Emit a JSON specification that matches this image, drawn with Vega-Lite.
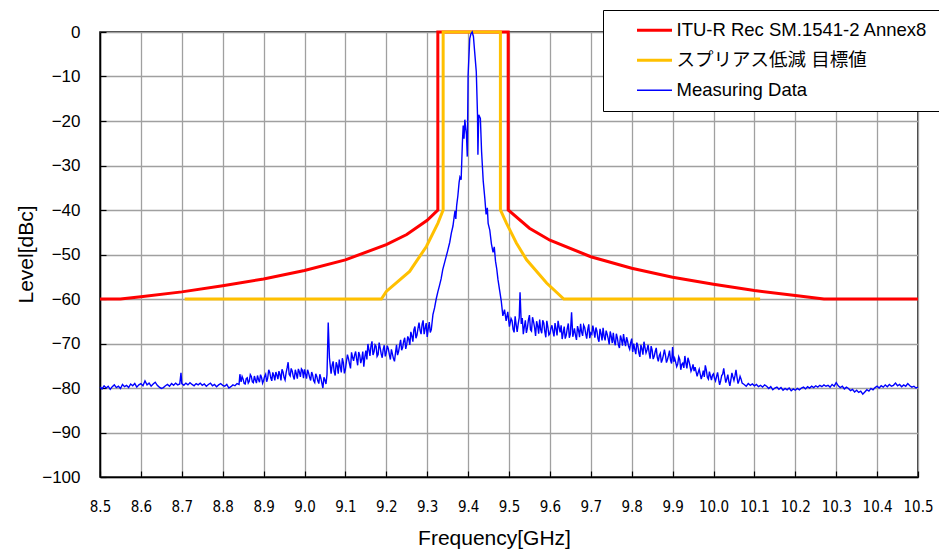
{
"$schema": "https://vega.github.io/schema/vega-lite/v6.json",
"width": 818, "height": 445,
"autosize": {"type": "none"},
"padding": {"left": 100, "top": 32, "right": 21, "bottom": 72},
"background": "white",
"config": {"view": {"stroke": "black", "strokeWidth": 1.5}, "font": "Liberation Sans"},
"layer": [
{
"data": {"values": [
{"f":8.5,"v":-60,"i":0},{"f":8.55,"v":-60,"i":1},{"f":8.6,"v":-59.5,"i":2},{"f":8.7,"v":-58.4,"i":3},{"f":8.8,"v":-57.0,"i":4},{"f":8.9,"v":-55.5,"i":5},{"f":9.0,"v":-53.6,"i":6},{"f":9.1,"v":-51.2,"i":7},{"f":9.2,"v":-47.8,"i":8},{"f":9.25,"v":-45.5,"i":9},{"f":9.3,"v":-42.3,"i":10},{"f":9.326,"v":-40,"i":11},{"f":9.326,"v":0,"i":12},{"f":9.498,"v":0,"i":13},{"f":9.498,"v":-40,"i":14},{"f":9.55,"v":-44.1,"i":15},{"f":9.6,"v":-46.8,"i":16},{"f":9.7,"v":-50.5,"i":17},{"f":9.8,"v":-53.1,"i":18},{"f":9.9,"v":-55.1,"i":19},{"f":10.0,"v":-56.7,"i":20},{"f":10.1,"v":-58.1,"i":21},{"f":10.2,"v":-59.2,"i":22},{"f":10.27,"v":-60,"i":23},{"f":10.5,"v":-60,"i":24}
]},
"mark": {"type": "line", "strokeWidth": 3, "clip": false},
"encoding": {
"x": {"field": "f", "type": "quantitative", "title": "Frequency[GHz]",
 "scale": {"domain": [8.5, 10.5], "nice": false, "zero": false},
 "axis": {"values": [8.5,8.55,8.6,8.65,8.7,8.75,8.8,8.85,8.9,8.95,9.0,9.05,9.1,9.15,9.2,9.25,9.3,9.35,9.4,9.45,9.5,9.55,9.6,9.65,9.7,9.75,9.8,9.85,9.9,9.95,10.0,10.05,10.1,10.15,10.2,10.25,10.3,10.35,10.4,10.45,10.5],
  "labelExpr": "round(datum.value*20)%2===0 ? format(datum.value,'.1f') : ''",
  "gridOpacity": {"condition": {"test": "round(datum.value*20)%2===0", "value": 1}, "value": 0},
  "gridColor": "#a0a0a0", "gridWidth": 1.3, "tickSize": -6, "tickColor": "black", "tickWidth": 1.2,
  "domainColor": "black", "domainWidth": 1.5,
  "labelFont": "Liberation Sans Narrow, DejaVu Sans Condensed, Liberation Sans", "labelFontSize": 15, "labelColor": "black", "labelPadding": 28,
  "labelOverlap": false, "labelFlush": false,
  "titleFont": "Liberation Sans", "titleFontSize": 21, "titleFontWeight": "normal", "titleColor": "black", "titleX": 394, "titleY": 50}},
"y": {"field": "v", "type": "quantitative", "title": "Level[dBc]",
 "scale": {"domain": [-100, 0], "nice": false, "zero": false},
 "axis": {"values": [-100,-95,-90,-85,-80,-75,-70,-65,-60,-55,-50,-45,-40,-35,-30,-25,-20,-15,-10,-5,0],
  "labelExpr": "datum.value % 10 === 0 ? datum.label : ''",
  "gridOpacity": {"condition": {"test": "datum.value % 10 === 0", "value": 1}, "value": 0},
  "gridColor": "#a0a0a0", "gridWidth": 1.3, "tickSize": -6, "tickColor": "black", "tickWidth": 1.2,
  "domainColor": "black", "domainWidth": 1.5,
  "labelFont": "Liberation Sans", "labelFontSize": 17, "labelColor": "black", "labelPadding": 26,
  "labelOverlap": false, "labelFlush": false,
  "titleFont": "Liberation Sans", "titleFontSize": 21, "titleFontWeight": "normal", "titleColor": "black", "titleX": -64, "titleY": 222}},
"order": {"field": "i", "type": "quantitative"},
"color": {"datum": "ITU-R Rec SM.1541-2 Annex8", "type": "nominal",
 "scale": {"domain": ["ITU-R Rec SM.1541-2 Annex8", "スプリアス低減 目標値", "Measuring Data"], "range": ["#FF0000", "#FFC000", "#0000FF"]},
 "legend": {"title": null, "orient": "none", "legendX": 503, "legendY": -22,
  "padding": 11, "strokeColor": "black", "fillColor": "white", "cornerRadius": 0,
  "symbolType": "stroke", "symbolSize": 1225, "symbolOffset": 0, "labelOffset": 44, "rowPadding": 11,
  "labelFont": "Liberation Sans, Noto Sans CJK JP", "labelFontSize": 18.5, "labelColor": "black", "labelLimit": 500,
  "labelExpr": "datum.label + '      '",
  "encode": {"symbols": {"update": {"x": {"value": 40.5}, "strokeWidth": {"signal": "datum.value === 'Measuring Data' ? 1.5 : 3"}}}}}}
}
},
{
"data": {"values": [
{"f":8.707,"v":-60,"i":0},{"f":9.188,"v":-60,"i":1},{"f":9.2,"v":-58.3,"i":2},{"f":9.257,"v":-53.8,"i":3},{"f":9.298,"v":-48.2,"i":4},{"f":9.326,"v":-43.0,"i":5},{"f":9.339,"v":-40,"i":6},{"f":9.339,"v":0,"i":7},{"f":9.479,"v":0,"i":8},{"f":9.479,"v":-40,"i":9},{"f":9.494,"v":-43.0,"i":10},{"f":9.518,"v":-47.4,"i":11},{"f":9.543,"v":-51.2,"i":12},{"f":9.592,"v":-56.4,"i":13},{"f":9.634,"v":-60,"i":14},{"f":10.114,"v":-60,"i":15}
]},
"mark": {"type": "line", "strokeWidth": 3, "clip": false},
"encoding": {
"x": {"field": "f", "type": "quantitative"},
"y": {"field": "v", "type": "quantitative"},
"order": {"field": "i", "type": "quantitative"},
"color": {"datum": "スプリアス低減 目標値", "type": "nominal"}
}
},
{
"data": {"values": [
{"f":8.500,"v":-79.8},{"f":8.505,"v":-80.2},{"f":8.510,"v":-79.5},{"f":8.515,"v":-80.0},{"f":8.520,"v":-79.6},{"f":8.525,"v":-80.3},{"f":8.530,"v":-79.7},{"f":8.535,"v":-79.3},{"f":8.540,"v":-79.9},{"f":8.545,"v":-79.6},
{"f":8.550,"v":-80.1},{"f":8.555,"v":-79.2},{"f":8.560,"v":-79.7},{"f":8.565,"v":-79.4},{"f":8.570,"v":-79.9},{"f":8.575,"v":-79.1},{"f":8.580,"v":-79.5},{"f":8.585,"v":-79.0},{"f":8.590,"v":-79.8},{"f":8.595,"v":-79.3},
{"f":8.600,"v":-79.0},{"f":8.605,"v":-79.5},{"f":8.610,"v":-78.4},{"f":8.615,"v":-79.3},{"f":8.620,"v":-78.9},{"f":8.625,"v":-79.6},{"f":8.630,"v":-79.1},{"f":8.635,"v":-78.7},{"f":8.640,"v":-79.4},{"f":8.645,"v":-79.8},
{"f":8.650,"v":-80.1},{"f":8.655,"v":-79.9},{"f":8.660,"v":-79.5},{"f":8.665,"v":-79.2},{"f":8.670,"v":-79.6},{"f":8.675,"v":-79.0},{"f":8.680,"v":-79.4},{"f":8.685,"v":-78.9},{"f":8.690,"v":-79.3},{"f":8.695,"v":-79.1},
{"f":8.698,"v":-76.6},{"f":8.700,"v":-79.0},{"f":8.705,"v":-79.4},{"f":8.710,"v":-78.9},{"f":8.715,"v":-79.3},{"f":8.720,"v":-78.8},{"f":8.725,"v":-79.2},{"f":8.730,"v":-79.5},{"f":8.735,"v":-79.0},{"f":8.740,"v":-79.3},
{"f":8.745,"v":-78.9},{"f":8.750,"v":-79.4},{"f":8.755,"v":-79.1},{"f":8.760,"v":-79.6},{"f":8.765,"v":-79.2},{"f":8.770,"v":-78.9},{"f":8.775,"v":-79.5},{"f":8.780,"v":-79.2},{"f":8.785,"v":-79.7},{"f":8.790,"v":-79.3},
{"f":8.795,"v":-79.0},{"f":8.800,"v":-79.4},{"f":8.805,"v":-79.6},{"f":8.810,"v":-79.2},{"f":8.815,"v":-80.0},{"f":8.820,"v":-79.7},{"f":8.825,"v":-79.3},{"f":8.830,"v":-79.5},{"f":8.835,"v":-79.0},{"f":8.840,"v":-79.2},
{"f":8.842,"v":-76.9},{"f":8.845,"v":-78.6},{"f":8.850,"v":-78.0},{"f":8.855,"v":-79.1},{"f":8.860,"v":-77.7},{"f":8.865,"v":-78.5},{"f":8.870,"v":-77.4},{"f":8.875,"v":-78.8},{"f":8.880,"v":-78.2},{"f":8.885,"v":-77.2},
{"f":8.890,"v":-78.7},{"f":8.895,"v":-77.6},{"f":8.900,"v":-78.3},{"f":8.905,"v":-76.9},{"f":8.910,"v":-77.8},{"f":8.915,"v":-76.5},{"f":8.920,"v":-78.4},{"f":8.925,"v":-77.2},{"f":8.930,"v":-76.4},{"f":8.935,"v":-78.0},
{"f":8.940,"v":-77.0},{"f":8.945,"v":-75.8},{"f":8.950,"v":-77.6},{"f":8.955,"v":-76.6},{"f":8.960,"v":-74.2},{"f":8.965,"v":-77.3},{"f":8.970,"v":-76.2},{"f":8.975,"v":-78.1},{"f":8.980,"v":-76.8},{"f":8.985,"v":-75.7},
{"f":8.990,"v":-77.5},{"f":8.995,"v":-76.0},{"f":9.000,"v":-75.8},{"f":9.005,"v":-77.9},{"f":9.010,"v":-76.6},{"f":9.015,"v":-78.3},{"f":9.020,"v":-77.1},{"f":9.025,"v":-78.8},{"f":9.030,"v":-77.4},{"f":9.035,"v":-79.0},
{"f":9.040,"v":-77.8},{"f":9.045,"v":-80.0},{"f":9.050,"v":-78.2},{"f":9.055,"v":-77.0},{"f":9.058,"v":-65.3},{"f":9.061,"v":-73.2},{"f":9.065,"v":-76.8},{"f":9.070,"v":-74.0},{"f":9.075,"v":-77.2},{"f":9.080,"v":-75.0},
{"f":9.085,"v":-73.6},{"f":9.090,"v":-76.5},{"f":9.095,"v":-74.3},{"f":9.100,"v":-75.8},{"f":9.105,"v":-72.5},{"f":9.110,"v":-74.6},{"f":9.115,"v":-72.0},{"f":9.120,"v":-73.9},{"f":9.125,"v":-71.8},{"f":9.130,"v":-74.9},
{"f":9.135,"v":-72.6},{"f":9.140,"v":-73.5},{"f":9.145,"v":-75.2},{"f":9.150,"v":-71.6},{"f":9.155,"v":-70.1},{"f":9.160,"v":-72.8},{"f":9.165,"v":-69.5},{"f":9.170,"v":-71.9},{"f":9.175,"v":-70.6},{"f":9.180,"v":-72.5},
{"f":9.185,"v":-71.0},{"f":9.190,"v":-73.2},{"f":9.195,"v":-70.4},{"f":9.200,"v":-72.0},{"f":9.205,"v":-71.2},{"f":9.210,"v":-73.6},{"f":9.215,"v":-72.4},{"f":9.220,"v":-74.0},{"f":9.225,"v":-70.3},{"f":9.230,"v":-71.8},
{"f":9.235,"v":-69.2},{"f":9.240,"v":-70.9},{"f":9.245,"v":-68.7},{"f":9.250,"v":-70.2},{"f":9.255,"v":-69.0},{"f":9.260,"v":-67.4},{"f":9.265,"v":-69.6},{"f":9.270,"v":-66.2},{"f":9.275,"v":-68.1},{"f":9.280,"v":-65.3},
{"f":9.285,"v":-67.9},{"f":9.290,"v":-64.8},{"f":9.295,"v":-66.6},{"f":9.300,"v":-68.5},{"f":9.305,"v":-65.2},{"f":9.310,"v":-66.9},{"f":9.314,"v":-63.5},{"f":9.318,"v":-62.0},{"f":9.322,"v":-60.0},{"f":9.326,"v":-58.4},
{"f":9.330,"v":-57.0},{"f":9.334,"v":-55.5},{"f":9.338,"v":-53.4},{"f":9.342,"v":-52.0},{"f":9.346,"v":-50.6},{"f":9.350,"v":-49.2},{"f":9.355,"v":-47.3},{"f":9.359,"v":-45.2},{"f":9.363,"v":-43.6},{"f":9.366,"v":-41.5},
{"f":9.368,"v":-40.2},{"f":9.370,"v":-42.0},{"f":9.372,"v":-39.0},{"f":9.375,"v":-36.8},{"f":9.378,"v":-33.8},{"f":9.380,"v":-32.6},{"f":9.383,"v":-33.2},{"f":9.386,"v":-25.0},{"f":9.388,"v":-21.0},{"f":9.390,"v":-24.0},
{"f":9.392,"v":-19.7},{"f":9.394,"v":-21.5},{"f":9.396,"v":-23.1},{"f":9.398,"v":-28.0},{"f":9.400,"v":-9.7},{"f":9.404,"v":-1.5},{"f":9.407,"v":-0.4},{"f":9.410,"v":0.0},{"f":9.413,"v":-1.0},{"f":9.416,"v":-4.4},
{"f":9.420,"v":-8.9},{"f":9.423,"v":-18.6},{"f":9.424,"v":-27.6},{"f":9.426,"v":-18.6},{"f":9.430,"v":-19.4},{"f":9.433,"v":-26.9},{"f":9.437,"v":-33.5},{"f":9.441,"v":-37.5},{"f":9.444,"v":-41.0},{"f":9.447,"v":-39.5},
{"f":9.449,"v":-43.0},{"f":9.453,"v":-44.5},{"f":9.457,"v":-47.6},{"f":9.461,"v":-49.5},{"f":9.464,"v":-48.3},{"f":9.467,"v":-51.5},{"f":9.470,"v":-53.2},{"f":9.473,"v":-55.6},{"f":9.477,"v":-58.0},{"f":9.481,"v":-60.4},
{"f":9.485,"v":-63.8},{"f":9.489,"v":-62.4},{"f":9.493,"v":-64.9},{"f":9.497,"v":-62.9},{"f":9.501,"v":-66.2},{"f":9.505,"v":-64.4},{"f":9.510,"v":-66.8},{"f":9.515,"v":-63.9},{"f":9.520,"v":-67.4},{"f":9.525,"v":-64.2},
{"f":9.527,"v":-58.5},{"f":9.530,"v":-65.6},{"f":9.535,"v":-67.9},{"f":9.540,"v":-64.8},{"f":9.545,"v":-66.5},{"f":9.550,"v":-63.6},{"f":9.555,"v":-67.2},{"f":9.560,"v":-65.1},{"f":9.565,"v":-68.3},{"f":9.570,"v":-66.0},
{"f":9.575,"v":-64.6},{"f":9.580,"v":-67.7},{"f":9.585,"v":-65.4},{"f":9.590,"v":-68.6},{"f":9.595,"v":-66.3},{"f":9.600,"v":-67.8},{"f":9.605,"v":-65.9},{"f":9.610,"v":-68.4},{"f":9.615,"v":-66.7},{"f":9.620,"v":-64.9},
{"f":9.625,"v":-67.5},{"f":9.630,"v":-69.0},{"f":9.635,"v":-66.2},{"f":9.640,"v":-68.1},{"f":9.645,"v":-65.5},{"f":9.650,"v":-67.9},{"f":9.653,"v":-63.0},{"f":9.656,"v":-68.5},{"f":9.660,"v":-66.6},{"f":9.665,"v":-69.2},
{"f":9.670,"v":-67.0},{"f":9.675,"v":-65.6},{"f":9.680,"v":-68.3},{"f":9.685,"v":-66.4},{"f":9.690,"v":-68.9},{"f":9.695,"v":-65.7},{"f":9.700,"v":-67.6},{"f":9.705,"v":-66.0},{"f":9.710,"v":-68.7},{"f":9.715,"v":-67.2},
{"f":9.720,"v":-69.6},{"f":9.725,"v":-67.8},{"f":9.730,"v":-66.5},{"f":9.735,"v":-69.3},{"f":9.740,"v":-67.9},{"f":9.745,"v":-70.2},{"f":9.750,"v":-68.4},{"f":9.755,"v":-67.6},{"f":9.760,"v":-70.4},{"f":9.765,"v":-68.8},
{"f":9.770,"v":-71.0},{"f":9.775,"v":-69.1},{"f":9.780,"v":-67.9},{"f":9.785,"v":-70.6},{"f":9.790,"v":-69.5},{"f":9.795,"v":-71.3},{"f":9.800,"v":-68.9},{"f":9.805,"v":-70.0},{"f":9.810,"v":-72.4},{"f":9.815,"v":-70.5},
{"f":9.820,"v":-73.0},{"f":9.825,"v":-71.2},{"f":9.830,"v":-69.6},{"f":9.835,"v":-72.1},{"f":9.840,"v":-70.3},{"f":9.845,"v":-73.4},{"f":9.850,"v":-71.5},{"f":9.855,"v":-72.9},{"f":9.860,"v":-71.0},{"f":9.865,"v":-74.0},
{"f":9.870,"v":-72.2},{"f":9.875,"v":-73.6},{"f":9.880,"v":-71.4},{"f":9.885,"v":-74.3},{"f":9.890,"v":-72.7},{"f":9.895,"v":-73.8},{"f":9.900,"v":-70.8},{"f":9.905,"v":-73.3},{"f":9.910,"v":-75.2},{"f":9.915,"v":-73.0},
{"f":9.920,"v":-75.9},{"f":9.925,"v":-74.4},{"f":9.930,"v":-72.8},{"f":9.935,"v":-75.6},{"f":9.940,"v":-74.0},{"f":9.945,"v":-76.2},{"f":9.950,"v":-74.7},{"f":9.955,"v":-75.3},{"f":9.960,"v":-77.4},{"f":9.965,"v":-75.8},
{"f":9.970,"v":-78.0},{"f":9.975,"v":-76.1},{"f":9.980,"v":-74.9},{"f":9.985,"v":-77.6},{"f":9.990,"v":-76.3},{"f":9.995,"v":-78.2},{"f":10.000,"v":-76.8},{"f":10.005,"v":-78.4},{"f":10.010,"v":-76.5},{"f":10.015,"v":-79.3},
{"f":10.020,"v":-77.2},{"f":10.025,"v":-75.6},{"f":10.030,"v":-78.8},{"f":10.035,"v":-77.0},{"f":10.040,"v":-79.5},{"f":10.045,"v":-76.6},{"f":10.050,"v":-78.3},{"f":10.055,"v":-75.9},{"f":10.060,"v":-79.0},{"f":10.065,"v":-77.4},
{"f":10.070,"v":-78.9},{"f":10.075,"v":-79.2},{"f":10.080,"v":-79.6},{"f":10.085,"v":-79.0},{"f":10.090,"v":-79.4},{"f":10.095,"v":-79.1},{"f":10.100,"v":-79.5},{"f":10.105,"v":-79.2},{"f":10.110,"v":-79.7},{"f":10.115,"v":-79.4},
{"f":10.120,"v":-79.8},{"f":10.125,"v":-79.3},{"f":10.130,"v":-79.6},{"f":10.135,"v":-80.1},{"f":10.140,"v":-79.7},{"f":10.145,"v":-80.4},{"f":10.150,"v":-80.0},{"f":10.155,"v":-79.8},{"f":10.160,"v":-80.3},{"f":10.165,"v":-79.9},
{"f":10.170,"v":-80.5},{"f":10.175,"v":-80.1},{"f":10.180,"v":-80.4},{"f":10.185,"v":-80.0},{"f":10.190,"v":-80.6},{"f":10.195,"v":-80.2},{"f":10.200,"v":-80.5},{"f":10.205,"v":-80.1},{"f":10.210,"v":-80.4},{"f":10.215,"v":-80.0},
{"f":10.220,"v":-79.8},{"f":10.225,"v":-80.2},{"f":10.230,"v":-79.7},{"f":10.235,"v":-80.0},{"f":10.240,"v":-79.6},{"f":10.245,"v":-79.9},{"f":10.250,"v":-79.5},{"f":10.255,"v":-79.8},{"f":10.260,"v":-79.4},{"f":10.265,"v":-79.7},
{"f":10.270,"v":-79.3},{"f":10.275,"v":-79.6},{"f":10.280,"v":-79.4},{"f":10.285,"v":-79.8},{"f":10.290,"v":-79.2},{"f":10.295,"v":-79.6},{"f":10.300,"v":-78.8},{"f":10.305,"v":-79.5},{"f":10.310,"v":-79.9},{"f":10.315,"v":-79.6},
{"f":10.320,"v":-80.2},{"f":10.325,"v":-79.8},{"f":10.330,"v":-80.1},{"f":10.335,"v":-80.6},{"f":10.340,"v":-80.3},{"f":10.345,"v":-80.9},{"f":10.350,"v":-80.5},{"f":10.355,"v":-81.0},{"f":10.360,"v":-80.7},{"f":10.365,"v":-81.4},
{"f":10.370,"v":-80.9},{"f":10.375,"v":-80.4},{"f":10.380,"v":-80.7},{"f":10.385,"v":-80.1},{"f":10.390,"v":-80.4},{"f":10.395,"v":-79.9},{"f":10.400,"v":-79.6},{"f":10.405,"v":-80.0},{"f":10.410,"v":-79.5},{"f":10.415,"v":-79.8},
{"f":10.420,"v":-79.3},{"f":10.425,"v":-79.7},{"f":10.430,"v":-79.2},{"f":10.435,"v":-79.6},{"f":10.440,"v":-79.4},{"f":10.445,"v":-78.9},{"f":10.450,"v":-79.5},{"f":10.455,"v":-79.2},{"f":10.460,"v":-79.7},{"f":10.465,"v":-79.3},
{"f":10.470,"v":-79.6},{"f":10.475,"v":-79.0},{"f":10.480,"v":-79.5},{"f":10.485,"v":-79.8},{"f":10.490,"v":-79.6},{"f":10.495,"v":-80.0},{"f":10.500,"v":-79.8},
{"f":8.8475,"v":-77.4},{"f":8.8525,"v":-79.0},{"f":8.8575,"v":-77.9},{"f":8.8625,"v":-78.9},{"f":8.8675,"v":-77.0},{"f":8.8725,"v":-78.6},{"f":8.8775,"v":-77.3},{"f":8.8825,"v":-78.9},{"f":8.8875,"v":-78.1},{"f":8.8925,"v":-77.0},
{"f":8.8975,"v":-78.9},{"f":8.9025,"v":-77.4},{"f":8.9075,"v":-78.6},{"f":8.9125,"v":-75.9},{"f":8.9175,"v":-77.7},{"f":8.9225,"v":-76.5},{"f":8.9275,"v":-78.3},{"f":8.9325,"v":-77.1},{"f":8.9375,"v":-76.2},{"f":8.9425,"v":-78.3},
{"f":8.9475,"v":-76.4},{"f":8.9525,"v":-78.2},{"f":8.9575,"v":-75.5},{"f":8.9625,"v":-76.9},{"f":8.9675,"v":-75.6},{"f":8.9725,"v":-77.4},{"f":8.9775,"v":-75.9},{"f":8.9825,"v":-77.9},{"f":8.9875,"v":-76.4},{"f":8.9925,"v":-75.7},
{"f":8.9975,"v":-77.8},{"f":9.0025,"v":-76.9},{"f":9.0075,"v":-75.9},{"f":9.0125,"v":-77.6},{"f":9.0175,"v":-76.4},{"f":9.0225,"v":-78.4},{"f":9.0275,"v":-76.8},{"f":9.0325,"v":-78.4},{"f":9.0375,"v":-76.9},{"f":9.0425,"v":-78.9},
{"f":9.0475,"v":-77.6},{"f":9.0525,"v":-79.1},{"f":9.0675,"v":-74.9},{"f":9.0725,"v":-76.3},{"f":9.0775,"v":-74.2},{"f":9.0825,"v":-76.8},{"f":9.0875,"v":-75.2},{"f":9.0925,"v":-73.3},{"f":9.0975,"v":-76.7},{"f":9.1025,"v":-74.1},
{"f":9.1075,"v":-73.4},{"f":9.1125,"v":-75.6},{"f":9.1175,"v":-73.1},{"f":9.1225,"v":-72.6},{"f":9.1275,"v":-73.5},{"f":9.1325,"v":-71.9},{"f":9.1375,"v":-74.4},{"f":9.1425,"v":-71.8},{"f":9.1475,"v":-73.0},{"f":9.1525,"v":-73.6},
{"f":9.1575,"v":-71.4},{"f":9.1625,"v":-70.6},{"f":9.1675,"v":-72.6},{"f":9.1725,"v":-70.3},{"f":9.1775,"v":-72.9},{"f":9.1825,"v":-69.8},{"f":9.1875,"v":-72.3},{"f":9.1925,"v":-71.3},{"f":9.1975,"v":-72.9},{"f":9.2025,"v":-70.5},
{"f":9.2075,"v":-72.5},{"f":9.2125,"v":-71.3},{"f":9.2175,"v":-73.4},{"f":9.2225,"v":-72.1},{"f":9.2275,"v":-72.6},{"f":9.2325,"v":-70.4},{"f":9.2375,"v":-71.5},{"f":9.2425,"v":-69.5},{"f":9.2475,"v":-71.2},{"f":9.2525,"v":-68.4},
{"f":9.2575,"v":-70.3},{"f":9.2625,"v":-68.3},{"f":9.2675,"v":-66.9},{"f":9.2725,"v":-68.8},{"f":9.2775,"v":-66.6},{"f":9.2825,"v":-67.0},{"f":9.2875,"v":-65.7},{"f":9.2925,"v":-67.9},{"f":9.2975,"v":-65.4},{"f":9.3025,"v":-66.7},
{"f":9.3075,"v":-67.5},
{"f":9.5075,"v":-64.9},{"f":9.5125,"v":-67.5},{"f":9.5175,"v":-65.8},{"f":9.5225,"v":-65.6},{"f":9.5325,"v":-64.3},{"f":9.5375,"v":-66.2},{"f":9.5425,"v":-67.6},{"f":9.5475,"v":-64.7},{"f":9.5525,"v":-66.9},{"f":9.5575,"v":-64.1},
{"f":9.5625,"v":-66.4},{"f":9.5675,"v":-65.0},{"f":9.5725,"v":-67.8},{"f":9.5775,"v":-66.9},{"f":9.5825,"v":-64.8},{"f":9.5875,"v":-67.3},{"f":9.5925,"v":-64.9},{"f":9.5975,"v":-68.1},{"f":9.6025,"v":-66.6},{"f":9.6075,"v":-67.3},
{"f":9.6125,"v":-65.4},{"f":9.6175,"v":-68.2},{"f":9.6225,"v":-66.3},{"f":9.6275,"v":-65.9},{"f":9.6325,"v":-67.6},{"f":9.6375,"v":-68.9},{"f":9.6425,"v":-66.6},{"f":9.6475,"v":-68.7},{"f":9.6625,"v":-68.1},{"f":9.6675,"v":-66.1},
{"f":9.6725,"v":-68.6},{"f":9.6775,"v":-67.4},{"f":9.6825,"v":-65.9},{"f":9.6875,"v":-67.8},{"f":9.6925,"v":-66.9},{"f":9.6975,"v":-68.8},{"f":9.7025,"v":-67.9},{"f":9.7075,"v":-67.2},{"f":9.7125,"v":-66.4},{"f":9.7175,"v":-68.9},
{"f":9.7225,"v":-66.7},{"f":9.7275,"v":-69.3},{"f":9.7325,"v":-68.4},{"f":9.7375,"v":-67.1},{"f":9.7425,"v":-68.9},{"f":9.7475,"v":-67.3},{"f":9.7525,"v":-69.9},{"f":9.7575,"v":-69.6},{"f":9.7625,"v":-67.8},{"f":9.7675,"v":-70.3},
{"f":9.7725,"v":-68.2},{"f":9.7775,"v":-70.5},{"f":9.7825,"v":-69.5},{"f":9.7875,"v":-68.6},{"f":9.7925,"v":-70.7},{"f":9.7975,"v":-69.8},{"f":9.8025,"v":-71.9},{"f":9.8075,"v":-71.3},{"f":9.8125,"v":-69.8},{"f":9.8175,"v":-72.1},
{"f":9.8225,"v":-70.3},{"f":9.8275,"v":-72.5},{"f":9.8325,"v":-70.9},{"f":9.8375,"v":-71.4},{"f":9.8425,"v":-72.0},{"f":9.8475,"v":-70.6},{"f":9.8525,"v":-73.5},{"f":9.8575,"v":-71.8},{"f":9.8625,"v":-73.1},{"f":9.8675,"v":-72.7},
{"f":9.8725,"v":-74.3},{"f":9.8775,"v":-72.6},{"f":9.8825,"v":-72.6},{"f":9.8875,"v":-73.6},{"f":9.8925,"v":-71.6},{"f":9.8975,"v":-74.5},{"f":9.9025,"v":-74.1},{"f":9.9075,"v":-74.2},{"f":9.9125,"v":-74.6},{"f":9.9175,"v":-73.6},
{"f":9.9225,"v":-74.7},{"f":9.9275,"v":-75.5},{"f":9.9325,"v":-74.4},{"f":9.9375,"v":-73.2},{"f":9.9425,"v":-75.0},{"f":9.9475,"v":-75.6},{"f":9.9525,"v":-76.2},{"f":9.9575,"v":-76.4},{"f":9.9625,"v":-76.5},{"f":9.9675,"v":-76.9},
{"f":9.9725,"v":-77.2},{"f":9.9775,"v":-77.5},{"f":9.9825,"v":-76.0},{"f":9.9875,"v":-78.0},{"f":9.9925,"v":-77.3},{"f":9.9975,"v":-77.1},{"f":10.0025,"v":-77.8},{"f":10.0075,"v":-77.4},{"f":10.0125,"v":-78.0},{"f":10.0175,"v":-78.4},
{"f":10.0225,"v":-76.9},{"f":10.0275,"v":-77.3},{"f":10.0325,"v":-78.0},{"f":10.0375,"v":-78.5},{"f":10.0425,"v":-78.2},{"f":10.0475,"v":-77.5},{"f":10.0525,"v":-77.3},{"f":10.0575,"v":-77.6},{"f":10.0625,"v":-78.3},{"f":10.0675,"v":-78.0}
]},
"mark": {"type": "line", "strokeWidth": 1.4, "clip": false},
"encoding": {
"x": {"field": "f", "type": "quantitative"},
"y": {"field": "v", "type": "quantitative"},
"color": {"datum": "Measuring Data", "type": "nominal"}
}
}
]
}
